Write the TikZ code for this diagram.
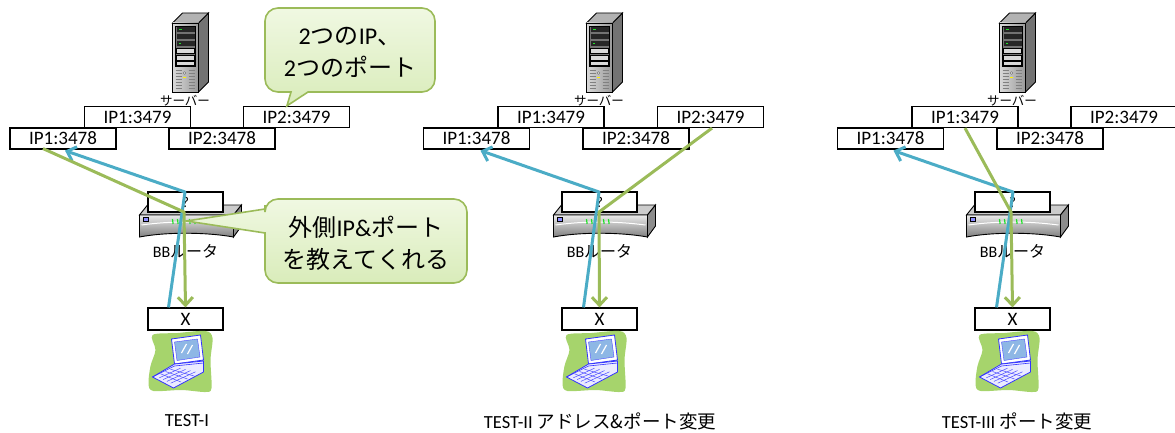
\documentclass[tikz,border=0pt]{standalone}
\usepackage{fontspec}
\setmainfont{Carlito}
\newfontfamily\jpfont{Noto Sans CJK JP}
\usetikzlibrary{arrows.meta,calc}

\definecolor{flowblue}{HTML}{4BACC6}
\definecolor{flowgreen}{HTML}{9BBB59}
\definecolor{notetop}{HTML}{F0F8E2}
\definecolor{notebot}{HTML}{D9ECBA}
\definecolor{padgreen}{HTML}{A6D46C}
\definecolor{ledgreen}{HTML}{22E02A}

\tikzset{
    portbox/.style={draw, fill=white, line width=1.2pt, minimum width=106pt,
        minimum height=21pt, inner sep=0pt, font=\fontsize{19}{21}\selectfont},
    natbox/.style={portbox, minimum width=75pt, minimum height=20pt,
        font=\fontsize{15}{16}\selectfont},
    hostbox/.style={portbox, minimum width=75pt, minimum height=22pt},
    smalltext/.style={inner sep=0pt, font=\fontsize{12.5}{13}\selectfont\jpfont},
    routertext/.style={inner sep=0pt, font=\fontsize{16}{17}\selectfont},
    testlabel/.style={inner sep=0pt, font=\fontsize{18.5}{20}\selectfont},
    notetext/.style={inner sep=0pt, align=center, font=\fontsize{24}{32}\selectfont},
    note/.style={draw=flowgreen, line width=1.6pt, top color=notetop, bottom color=notebot},
    blueflow/.style={draw=flowblue, line width=3pt, line join=round,
        -{Straight Barb[length=8pt,width=15pt]}},
    greenflow/.style={draw=flowgreen, line width=3pt, line join=round,
        -{Straight Barb[length=8pt,width=15pt]}},
    server/.pic={
        \draw[line width=0.9pt, fill=black!55] (13,23) -- (23,13) -- (23,82) -- (13,92) -- cycle;
        \draw[line width=0.9pt, fill=black!30] (-13,23) -- (-3,13) -- (23,13) -- (13,23) -- cycle;
        \draw[line width=0.9pt, left color=black!15, right color=black!40] (-13,23) rectangle (13,92);
        \draw[fill=black!55] (-10,26) rectangle (10,66);
        \fill[black!85] (-9,27) rectangle (9,32);
        \fill[black!85] (-9,34) rectangle (9,39);
        \fill[black!85] (-9,41) rectangle (9,46);
        \draw[fill=black!15] (-9,48) rectangle (9,53);
        \draw[fill=black!15] (-9,55) rectangle (9,60);
        \draw[fill=black!15] (-9,61.5) rectangle (9,65);
        \fill[ledgreen] (-7,29) rectangle (-4,30.5);
        \fill[ledgreen] (-7,43) rectangle (-5,44);
        \foreach \yy in {70,73,...,89} {
            \draw[black!50, line width=0.6pt] (-10,\yy) -- (-4,\yy);
            \draw[black!50, line width=0.6pt] (3,\yy) -- (9,\yy);
        }
        \draw[black!60, fill=black!10] (-1,73) circle (1.3);
        \fill[yellow] (-2.5,77) rectangle (0.5,78.5);
    },
    router/.pic={
        \draw[line width=0.9pt, fill=black!20] (-46,215) -- (-38,205) -- (56,205) -- (48,215) -- cycle;
        \draw[line width=0.9pt, fill=black!45] (48,215) -- (56,205) -- (56,226) -- (48,237) -- cycle;
        \draw[line width=0.9pt, top color=black!8, bottom color=black!50]
            (-46,215) -- (48,215) -- (48,237) .. controls (20,232) and (-20,232) .. (-46,237) -- cycle;
        \draw[white, line width=1pt] (-44,225) .. controls (-15,221) and (15,221) .. (46,225);
        \draw[fill=blue!45] (-42,217.5) rectangle (-37,221.5);
        \foreach \xx in {-13,-8,4,9}
            \draw[ledgreen, line width=1.2pt] (\xx,219) -- (\xx+0.6,224);
    },
    laptop/.pic={
        \fill[padgreen] plot[smooth cycle, tension=0.5] coordinates {(-33,335) (-8,333) (20,331)
            (27,338) (25,360) (26,388) (20,392) (-4,390) (-32,391) (-37,384) (-35,366) (-30,350)};
        \draw[blue!80, line width=0.8pt, fill=white] (-14,339) -- (15,335) -- (18,360) -- (-11,364) -- cycle;
        \draw[blue!70, fill=cyan!60!blue!45] (-11,342) -- (12,339) -- (14.5,357) -- (-8.5,360.5) -- cycle;
        \draw[white, line width=1.2pt] (-4,353) -- (1,344);
        \draw[white, line width=1.2pt] (2,354) -- (7,345);
        \draw[blue!80, line width=0.8pt, fill=blue!8] (-33,377) -- (-12,388) -- (18,372) -- (18,361)
            -- (-11,364) -- cycle;
        \draw[blue!80, line width=0.6pt] (-33,377) -- (-11,366) -- (18,363);
        \foreach \ss in {0.2,0.4,0.6,0.8}
            \draw[blue!70, line width=0.5pt] ($(-30,376)!\ss!(-11,385)$) -- ($(-10,367)!\ss!(15,373)$);
        \foreach \ss in {0.25,0.5,0.75}
            \draw[blue!70, line width=0.5pt] ($(-30,376)!\ss!(-10,367)$) -- ($(-11,385)!\ss!(15,373)$);
    },
}

\begin{document}
\begin{tikzpicture}[x=1pt, y=-1pt]
    \useasboundingbox (0,0) rectangle (1175,433);

    % test I
    \pic at (185.5,0) {server};
    \node[smalltext] (srv1) at (185,101) {サーバー};
    \node[portbox] (a1) at (137.5,117) {IP1:3479};
    \node[portbox] (b1) at (296.5,117) {IP2:3479};
    \node[portbox] (c1) at (63,138.5) {IP1:3478};
    \node[portbox] (d1) at (222,138.5) {IP2:3478};
    \pic at (185.5,0) {router};
    \node[natbox] (n1) at (185.5,202) {?};
    \node[routertext] (r1) at (185.5,251) {BB{\jpfont ルータ}};
    \node[hostbox] (x1) at (185.5,319) {X};
    \pic at (185.5,0) {laptop};
    \node[testlabel] (t1) at (187,421) {TEST-I};

    % test II
    \pic at (599.5,0) {server};
    \node[smalltext] (srv2) at (599,101) {サーバー};
    \node[portbox] (a2) at (551,117) {IP1:3479};
    \node[portbox] (b2) at (710.5,117) {IP2:3479};
    \node[portbox] (c2) at (476.5,138.5) {IP1:3478};
    \node[portbox] (d2) at (636,138.5) {IP2:3478};
    \pic at (599.5,0) {router};
    \node[natbox] (n2) at (599.5,202) {?};
    \node[routertext] (r2) at (599.5,251) {BB{\jpfont ルータ}};
    \node[hostbox] (x2) at (599.5,319) {X};
    \pic at (599.5,0) {laptop};
    \node[testlabel] (t2) at (600,421) {TEST-II {\jpfont アドレス\&ポート変更}};

    % test III
    \pic at (1012.5,0) {server};
    \node[smalltext] (srv3) at (1012,101) {サーバー};
    \node[portbox] (a3) at (965,117) {IP1:3479};
    \node[portbox] (b3) at (1124,117) {IP2:3479};
    \node[portbox] (c3) at (890.5,138.5) {IP1:3478};
    \node[portbox] (d3) at (1050,138.5) {IP2:3478};
    \pic at (1012.5,0) {router};
    \node[natbox] (n3) at (1012.5,202) {?};
    \node[routertext] (r3) at (1012.5,251) {BB{\jpfont ルータ}};
    \node[hostbox] (x3) at (1012.5,319) {X};
    \pic at (1012.5,0) {laptop};
    \node[testlabel] (t3) at (1017,421) {TEST-III {\jpfont ポート変更}};

    % bends at the router
    \coordinate (kb1) at (185,192);
    \coordinate (kg1) at (184,212);
    \coordinate (kb2) at (599,192);
    \coordinate (kg2) at (599,212);
    \coordinate (kb3) at (1013,192);
    \coordinate (kg3) at (1011,212);

    \draw[blueflow] ($(x1.north)+(-17,0)$) -- (kb1) -- ($(c1.south)+(2,1)$);
    \draw[greenflow] ($(c1.south)+(-20,-1)$) -- (kg1) -- (x1.north);
    \draw[blueflow] ($(x2.north)+(-16,0)$) -- (kb2) -- ($(c2.south)+(4,1)$);
    \draw[greenflow] ($(b2.south)+(1.5,0)$) -- (kg2) -- (x2.north);
    \draw[blueflow] ($(x3.north)+(-16,0)$) -- (kb3) -- ($(c3.south)+(3,1)$);
    \draw[greenflow] (a3.south) -- (kg3) -- (x3.north);

    % notes
    \coordinate (tip1) at ($(b1.north west)+(44,0)$);
    \path[note] (350,8) [rounded corners=13pt] -- (435,8) -- (435,92) -- (325,92)
        [sharp corners] -- (308,92) -- (tip1) -- (291,92) -- (280,92)
        [rounded corners=13pt] -- (265,92) -- (265,8) -- cycle;
    \node[notetext] (m1) at (350,52) {2{\jpfont つの}IP{\jpfont 、}\\2{\jpfont つのポート}};

    \coordinate (tip2) at ($(n1.center)+(1,19)$);
    \path[note] (366,199) [rounded corners=13pt] -- (467,199) -- (467,283) -- (265,283)
        -- (265,245) [sharp corners] -- (265,233) -- (tip2) -- (265,209) -- (265,205)
        [rounded corners=13pt] -- (265,199) -- cycle;
    \node[notetext] (m2) at (366,243) {{\jpfont 外側}IP\&{\jpfont ポート}\\{\jpfont を教えてくれる}};
\end{tikzpicture}
\end{document}
